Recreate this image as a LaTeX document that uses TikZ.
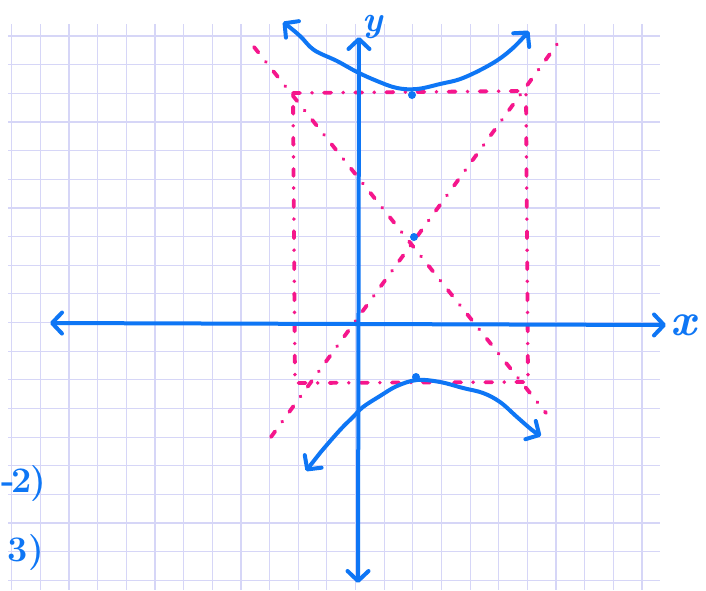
\documentclass[tikz,border=0pt]{standalone}
\usetikzlibrary{arrows.meta}
\definecolor{gridc}{RGB}{214,214,247}
\definecolor{inkblue}{RGB}{14,118,245}
\definecolor{inkpink}{RGB}{245,22,140}
\tikzset{
  barb/.tip={Straight Barb[length=10pt,width=21pt,line cap=round,line join=round]},
  gridline/.style={draw=gridc,line width=1.2pt},
  inkline/.style={draw=inkblue,line width=4pt,line cap=round,line join=round},
  pinkdash/.style={draw=inkpink,line width=3.8pt,line cap=round,dash pattern=on 7pt off 12pt on 0.1pt off 12pt},
  inkdot/.style={circle,fill=inkblue,inner sep=0pt,minimum size=8pt},
  inklabel/.style={text=inkblue,inner sep=0pt},
  inknum/.style={text=inkblue,inner sep=0pt,font=\fontsize{36}{36}\selectfont\bfseries}
}
\begin{document}
\begin{tikzpicture}[x=1pt,y=-1pt]
\useasboundingbox[fill=white] (0,0) rectangle (706,590);
% grid paper
\foreach \i in {0,...,22}{
  \draw[gridline] ({11.7+28.65*\i},24) -- ({11.7+28.65*\i},590);
}
\foreach \j in {0,...,19}{
  \draw[gridline] (8,{36+28.65*\j}) -- (660,{36+28.65*\j});
}
% rectangle and asymptotes (pink, dashed)
\coordinate (rTL) at (293,93);
\coordinate (rTR) at (526,91);
\coordinate (rBR) at (528,382);
\coordinate (rBL) at (295,383);
\draw[pinkdash] (rTL) -- (rTR) -- (rBR) -- (rBL) -- cycle;
\coordinate (aA1) at (254,47);
\coordinate (aA2) at (546,413);
\coordinate (aB1) at (271,437);
\coordinate (aB2) at (563,36);
\draw[pinkdash] (aA1) -- (aA2);
\draw[pinkdash] (aB1) -- (aB2);
% axes
\coordinate (xL) at (50,323);
\coordinate (xR) at (666,325);
\coordinate (yT) at (359,37);
\coordinate (yB) at (358,583);
\draw[inkline,barb-barb] (xL) -- (xR);
\draw[inkline,barb-barb] (yB) -- (yT);
\node[inklabel,font=\fontsize{46}{46}\selectfont\bfseries\itshape] (xlab) at (683,325) {x};
\node[inklabel,font=\fontsize{36}{36}\selectfont\bfseries\itshape] (ylab) at (373,27) {y};
% hyperbola branches
\draw[inkline,barb-barb] plot[smooth,tension=0.6] coordinates {
  (283,22) (300,36) (314,50) (337,61) (357,72) (377,81) (397,88)
  (417,89) (440,84) (463,78) (493,63) (513,48) (529,31)};
\draw[inkline,barb-barb] plot[smooth,tension=0.6] coordinates {
  (306,471) (320,453) (340,430) (353,417) (363,407) (380,396) (397,386)
  (417,380) (440,382) (463,388) (483,393) (500,402) (517,417) (532,430) (541,436)};
% centre and vertices
\node[inkdot] (ctr) at (414,237) {};
\node[inkdot] (vtop) at (412,95) {};
\node[inkdot] (vbot) at (416,377) {};
% margin notes
\node[inknum,anchor=west] (n2) at (1,484) {-\kern-3pt2\kern-2pt)};
\node[inknum,anchor=east] (n3) at (44,553) {3)};
\end{tikzpicture}
\end{document}
